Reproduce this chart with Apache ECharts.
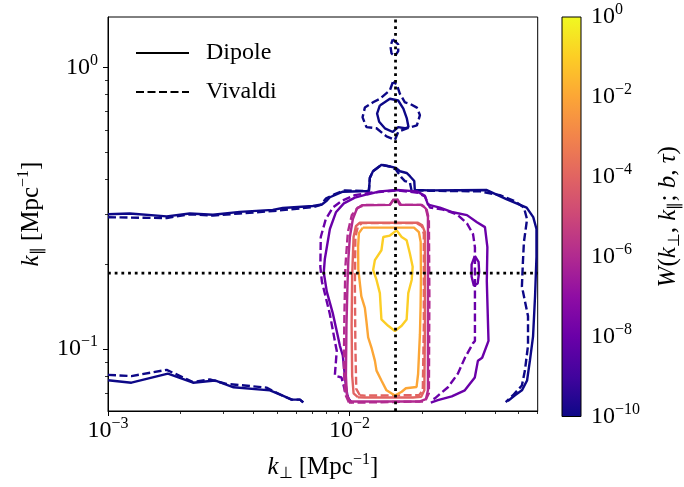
<!DOCTYPE html>
<html>
<head>
<meta charset="utf-8">
<script src="https://cdn.jsdelivr.net/npm/echarts@6/dist/echarts.min.js"></script>
<style>
html, body { margin: 0; padding: 0; background: #fff; }
#main { width: 684px; height: 487px; }
</style>
</head>
<body>
<div id="main"></div>
<script>
// axis limits and ticks
var kPerpMin = 0.001, kPerpMax = 0.0601;
var kParMin = 0.0603, kParMax = 1.51;
var majorX = [0.001, 0.01];
var minorX = [0.002, 0.003, 0.004, 0.005, 0.006, 0.007, 0.008, 0.009, 0.02, 0.03, 0.04, 0.05, 0.06];
var majorY = [0.1, 1];
var minorY = [0.07, 0.08, 0.09, 0.2, 0.3, 0.4, 0.5, 0.6, 0.7, 0.8, 0.9];
var cbarExp = [-10, -8, -6, -4, -2, 0];

// dotted reference lines
var refKPerp = 0.0155;
var refKPar = 0.186;

// contour lines, [k_perp, k_par]
// W = 1e-10
var dip10Top = [[0.00100,0.301],[0.00123,0.303],[0.00175,0.296],[0.00218,0.303],[0.00272,0.300],[0.00351,0.307],[0.00481,0.312],[0.00529,0.317],[0.00705,0.322],[0.00768,0.326],[0.00806,0.337],[0.00829,0.346],[0.00938,0.362],[0.01202,0.364],[0.01214,0.406],[0.01250,0.428],[0.01357,0.451],[0.01469,0.445],[0.01555,0.440],[0.01616,0.428],[0.01723,0.422],[0.01778,0.411],[0.01853,0.395],[0.01863,0.367],[0.02151,0.366],[0.0370,0.367],[0.0448,0.340],[0.0541,0.318],[0.0576,0.294],[0.0594,0.267],[0.0594,0.2125],[0.0586,0.154],[0.0575,0.111],[0.0558,0.0910],[0.0543,0.0774],[0.0517,0.0714],[0.0484,0.0686],[0.0452,0.0654]];
var viv10Top = [[0.00100,0.294],[0.00123,0.293],[0.00175,0.292],[0.00218,0.301],[0.00272,0.298],[0.00351,0.303],[0.00481,0.309],[0.00705,0.319],[0.00760,0.325],[0.00797,0.342],[0.00869,0.355],[0.00956,0.366],[0.01202,0.364],[0.01214,0.406],[0.01250,0.428],[0.01357,0.451],[0.01469,0.445],[0.01555,0.434],[0.01643,0.406],[0.01695,0.395],[0.01778,0.390],[0.01805,0.366],[0.02151,0.365],[0.03466,0.363],[0.04194,0.352],[0.04839,0.335],[0.0527,0.318],[0.0543,0.289],[0.0527,0.240],[0.0522,0.204],[0.0517,0.167],[0.0548,0.131],[0.0548,0.103],[0.0532,0.0839],[0.0517,0.0743],[0.0475,0.0686],[0.0443,0.0649]];
var dip10Bot = [[0.00100,0.0775],[0.00125,0.0760],[0.00177,0.0818],[0.00225,0.0760],[0.00277,0.0774],[0.00331,0.0732],[0.00468,0.0714],[0.00523,0.0686],[0.00576,0.0662],[0.00623,0.0662],[0.00643,0.0647]];
var viv10Bot = [[0.00100,0.0810],[0.00125,0.0802],[0.00175,0.0844],[0.00225,0.0764],[0.00264,0.0780],[0.00309,0.0753],[0.00453,0.0730],[0.00481,0.0711],[0.00523,0.0686],[0.00576,0.0662],[0.00623,0.0662],[0.00643,0.0647]];
var dip10Isl = [[0.01335,0.733],[0.01469,0.774],[0.01590,0.763],[0.01670,0.714],[0.01726,0.659],[0.01754,0.614],[0.01695,0.608],[0.01590,0.614],[0.01510,0.590],[0.01400,0.608],[0.01326,0.641],[0.01300,0.686],[0.01335,0.733]];
var viv10Isl = [[0.01510,0.886],[0.01469,0.829],[0.01335,0.774],[0.01251,0.752],[0.01157,0.720],[0.01132,0.665],[0.01175,0.614],[0.01293,0.608],[0.01422,0.569],[0.01541,0.553],[0.01590,0.590],[0.01726,0.608],[0.01900,0.623],[0.01956,0.677],[0.01900,0.720],[0.01778,0.743],[0.01695,0.752],[0.01616,0.806],[0.01565,0.874],[0.01510,0.886]];
var viv10Tip = [[0.01510,1.257],[0.01590,1.207],[0.01590,1.142],[0.01541,1.095],[0.01492,1.121],[0.01476,1.190],[0.01510,1.257]];
// W = 1e-8
var dip8 = [[0.01025,0.0646],[0.00984,0.0669],[0.00965,0.0743],[0.00938,0.0947],[0.00912,0.1027],[0.00894,0.1113],[0.00852,0.1342],[0.00805,0.160],[0.00782,0.187],[0.00790,0.209],[0.00829,0.267],[0.00878,0.306],[0.00947,0.329],[0.01052,0.345],[0.01180,0.354],[0.01335,0.363],[0.01571,0.367],[0.01901,0.363],[0.02051,0.350],[0.02111,0.326],[0.02366,0.318],[0.02679,0.306],[0.03062,0.299],[0.03369,0.282],[0.03635,0.271],[0.0372,0.230],[0.0370,0.174],[0.0376,0.107],[0.0354,0.0932],[0.0340,0.0910],[0.0330,0.0793],[0.0300,0.0714],[0.0265,0.0680],[0.0232,0.0659],[0.0217,0.0646]];
var viv8 = [[0.0101,0.0646],[0.00956,0.0714],[0.00926,0.0793],[0.00869,0.0806],[0.00885,0.0986],[0.00869,0.1069],[0.00829,0.133],[0.00768,0.174],[0.00757,0.196],[0.00760,0.250],[0.00797,0.289],[0.00852,0.318],[0.00929,0.336],[0.01052,0.352],[0.01214,0.359],[0.01571,0.366],[0.01919,0.359],[0.02051,0.348],[0.02151,0.318],[0.02435,0.313],[0.02782,0.301],[0.03062,0.2795],[0.03245,0.256],[0.03304,0.230],[0.03304,0.174],[0.03304,0.1069],[0.03245,0.1050],[0.03004,0.0932],[0.02810,0.0819],[0.02555,0.0732],[0.02256,0.0669],[0.02171,0.0656]];
var dip8Loop = [[0.0330,0.2142],[0.0342,0.204],[0.0344,0.188],[0.0339,0.171],[0.0327,0.168],[0.0320,0.181],[0.0320,0.1995],[0.0330,0.2142]];
// W = 1e-6
var dip6 = [[0.01003,0.0652],[0.00975,0.0686],[0.00966,0.0806],[0.00971,0.121],[0.00980,0.167],[0.00989,0.209],[0.01003,0.250],[0.01032,0.2895],[0.01072,0.315],[0.01125,0.324],[0.01469,0.325],[0.01520,0.339],[0.01571,0.339],[0.01616,0.325],[0.01994,0.325],[0.02071,0.315],[0.02111,0.294],[0.02111,0.2125],[0.02111,0.121],[0.02111,0.0714],[0.02071,0.0664],[0.01956,0.0652],[0.01103,0.0652],[0.01003,0.0652]];
var viv6 = [[0.00994,0.0646],[0.00956,0.0697],[0.00947,0.0874],[0.00952,0.131],[0.00961,0.196],[0.00984,0.260],[0.01022,0.299],[0.01082,0.318],[0.01157,0.325],[0.01469,0.325],[0.01528,0.342],[0.01571,0.342],[0.01632,0.325],[0.01975,0.325],[0.0208,0.316],[0.0213,0.289],[0.0214,0.154],[0.0213,0.0697],[0.02051,0.0652],[0.01103,0.0646],[0.00994,0.0646]];
// W = 1e-4
var dip4 = [[0.01082,0.0675],[0.01039,0.0697],[0.01025,0.0806],[0.01020,0.121],[0.01025,0.181],[0.01039,0.250],[0.01062,0.2730],[0.01103,0.281],[0.01919,0.281],[0.02000,0.275],[0.02051,0.260],[0.02051,0.121],[0.0204,0.0714],[0.0198,0.0677],[0.0183,0.0673],[0.01157,0.0673],[0.01082,0.0675]];
var viv4 = [[0.01103,0.0686],[0.01066,0.0722],[0.01057,0.103],[0.01052,0.167],[0.01057,0.250],[0.01082,0.272],[0.01125,0.280],[0.01900,0.280],[0.01994,0.273],[0.0203,0.256],[0.0203,0.121],[0.0201,0.0714],[0.0194,0.0686],[0.01157,0.0684],[0.01103,0.0686]];
// W = 1e-2
var dip2 = [[0.01135,0.270],[0.01093,0.258],[0.01085,0.230],[0.01087,0.192],[0.01119,0.154],[0.01157,0.140],[0.01174,0.126],[0.01194,0.110],[0.01232,0.1013],[0.01273,0.0910],[0.01293,0.0839],[0.01355,0.0774],[0.01422,0.0714],[0.01541,0.0684],[0.01644,0.0706],[0.01711,0.0726],[0.01894,0.0734],[0.01922,0.0816],[0.01937,0.0947],[0.01956,0.113],[0.01968,0.142],[0.01975,0.181],[0.0197,0.240],[0.01937,0.260],[0.01848,0.270],[0.01135,0.270]];
// W = 1e-1
var dip1 = [[0.01565,0.264],[0.01469,0.253],[0.01379,0.250],[0.01355,0.2243],[0.01273,0.207],[0.01252,0.191],[0.01293,0.176],[0.01335,0.158],[0.01355,0.1274],[0.01445,0.121],[0.01541,0.116],[0.01643,0.121],[0.01723,0.1274],[0.01750,0.158],[0.01808,0.176],[0.01825,0.196],[0.01778,0.218],[0.01723,0.2435],[0.01643,0.250],[0.01565,0.264]];

// styles
var serif = 'Liberation Serif';
var plasma = ['#0d0887','#41049d','#6a00a8','#8f0da4','#b12a90','#cc4778','#e16462','#f2844b','#fca636','#fcce25','#f0f921'];
var cNavy = '#0d0887', cPurple = '#6a00a8', cMagenta = '#b12a90', cPink = '#e16462', cOrange = '#fca636', cYellow = '#fcce25';
var dashPat = [8, 3.5];

function supLabel(e) {
  return '{b|10}{s|' + (e < 0 ? '\u2212' + (-e) : e) + '}';
}
function powLabel(v) {
  var l = Math.log10(v), e = Math.round(l);
  if (Math.abs(l - e) > 1e-6) return '';
  return supLabel(e);
}
var richTick = {
  b: { fontFamily: serif, fontSize: 24, lineHeight: 30, color: '#000' },
  s: { fontFamily: serif, fontSize: 16, lineHeight: 16, verticalAlign: 'top', color: '#000' }
};
var richName = {
  i: { fontFamily: serif, fontStyle: 'italic', fontSize: 25, lineHeight: 30, color: '#000' },
  r: { fontFamily: serif, fontSize: 25, lineHeight: 30, color: '#000' },
  sub: { fontFamily: serif, fontSize: 16, lineHeight: 16, verticalAlign: 'bottom', color: '#000' },
  sup: { fontFamily: serif, fontSize: 16, lineHeight: 16, verticalAlign: 'top', color: '#000' }
};

function contour(data, color, dashed) {
  return {
    type: 'line', xAxisIndex: 0, yAxisIndex: 0, data: data,
    symbol: 'none', silent: true, z: 3,
    lineStyle: { color: color, width: 2.4, type: dashed ? dashPat : 'solid' }
  };
}
function dotted(data) {
  return {
    type: 'line', xAxisIndex: 0, yAxisIndex: 0, data: data,
    symbol: 'none', silent: true, z: 5,
    lineStyle: { color: '#000', width: 2.8, type: [2.8, 3.9], cap: 'butt' }
  };
}

var myChart = echarts.init(document.getElementById('main'));

var series = [
  { name: 'Dipole', type: 'line', data: [], symbol: 'none', itemStyle: { color: 'rgba(0,0,0,0)', borderWidth: 0 }, lineStyle: { color: '#000', width: 2.8, type: 'solid' } },
  { name: 'Vivaldi', type: 'line', data: [], symbol: 'none', itemStyle: { color: 'rgba(0,0,0,0)', borderWidth: 0 }, lineStyle: { color: '#000', width: 2.8, type: dashPat } },
  contour(dip10Top, cNavy, false), contour(viv10Top, cNavy, true),
  contour(dip10Bot, cNavy, false), contour(viv10Bot, cNavy, true),
  contour(dip10Isl, cNavy, false), contour(viv10Isl, cNavy, true), contour(viv10Tip, cNavy, true),
  contour(dip8, cPurple, false), contour(viv8, cPurple, true), contour(dip8Loop, cPurple, false),
  contour(dip6, cMagenta, false), contour(viv6, cMagenta, true),
  contour(dip4, cPink, false), contour(viv4, cPink, true),
  contour(dip2, cOrange, false),
  contour(dip1, cYellow, false),
  dotted([[refKPerp, kParMin], [refKPerp, kParMax]]),
  dotted([[kPerpMin, refKPar], [kPerpMax, refKPar]]),
  {
    type: 'custom', xAxisIndex: 2, yAxisIndex: 2, silent: true,
    data: [[0, cbarExp[0], 1, cbarExp[cbarExp.length - 1]]],
    renderItem: function (params, api) {
      var p0 = api.coord([api.value(0), api.value(1)]);
      var p1 = api.coord([api.value(2), api.value(3)]);
      var stops = plasma.map(function (c, i) { return { offset: i / (plasma.length - 1), color: c }; });
      return {
        type: 'rect',
        shape: { x: p0[0], y: p1[1], width: p1[0] - p0[0], height: p0[1] - p1[1] },
        style: { fill: new echarts.graphic.LinearGradient(0, 1, 0, 0, stops), stroke: '#000', lineWidth: 1 }
      };
    }
  }
];

option = {
  animation: false,
  backgroundColor: '#fff',
  legend: {
    data: ['Dipole', 'Vivaldi'],
    orient: 'vertical',
    left: 130, top: 33,
    itemWidth: 53, itemHeight: 14, itemGap: 9,
    itemStyle: { opacity: 0 },
    textStyle: { fontFamily: serif, fontSize: 24, lineHeight: 30, color: '#000', padding: [0, 0, 0, 12] },
    selectedMode: false
  },
  grid: [
    { left: 108, top: 17, right: 146.3, bottom: 71, show: true, borderColor: '#000', borderWidth: 1, backgroundColor: 'transparent' },
    { left: 562, top: 17, width: 20.5, height: 399.5 }
  ],
  xAxis: [
    {
      type: 'log', logBase: 10, gridIndex: 0, position: 'bottom', min: kPerpMin, max: kPerpMax,
      axisLine: { show: true, lineStyle: { color: '#000', width: 1 } },
      axisTick: { show: true, inside: false, length: 5, customValues: majorX, lineStyle: { color: '#000', width: 1 } },
      axisLabel: { show: true, margin: 5, customValues: majorX, formatter: powLabel, rich: richTick },
      splitLine: { show: false },
      name: '{i|k}{sub|\u22a5}{r| [Mpc}{sup|\u22121}{r|]}',
      nameLocation: 'middle', nameGap: 41,
      nameTextStyle: { rich: richName }
    },
    {
      type: 'log', logBase: 10, gridIndex: 0, position: 'bottom', min: kPerpMin, max: kPerpMax,
      axisLine: { show: false },
      axisTick: { show: true, inside: false, length: 3, customValues: minorX, lineStyle: { color: '#000', width: 0.8 } },
      axisLabel: { show: false },
      splitLine: { show: false }
    },
    {
      type: 'value', gridIndex: 1, min: 0, max: 1, show: false
    }
  ],
  yAxis: [
    {
      type: 'log', logBase: 10, gridIndex: 0, position: 'left', min: kParMin, max: kParMax,
      axisLine: { show: true, lineStyle: { color: '#000', width: 1 } },
      axisTick: { show: true, inside: false, length: 5, customValues: majorY, lineStyle: { color: '#000', width: 1 } },
      axisLabel: { show: true, margin: 10, customValues: majorY, formatter: powLabel, rich: richTick },
      splitLine: { show: false },
      name: '{i|k}{sub|\u2225}{r| [Mpc}{sup|\u22121}{r|]}',
      nameLocation: 'middle', nameGap: 62, nameRotate: 90,
      nameTextStyle: { rich: richName }
    },
    {
      type: 'log', logBase: 10, gridIndex: 0, position: 'left', min: kParMin, max: kParMax,
      axisLine: { show: false },
      axisTick: { show: true, inside: false, length: 3, customValues: minorY, lineStyle: { color: '#000', width: 0.8 } },
      axisLabel: { show: false },
      splitLine: { show: false }
    },
    {
      type: 'value', gridIndex: 1, position: 'right', min: cbarExp[0], max: cbarExp[cbarExp.length - 1], interval: 2,
      axisLine: { show: false },
      axisTick: { show: true, inside: false, length: 5, lineStyle: { color: '#000', width: 1 } },
      axisLabel: { show: true, margin: 10, formatter: function (v) { return supLabel(v); }, rich: richTick },
      splitLine: { show: false },
      name: '{i|W}{r|(}{i|k}{sub|\u22a5}{r|, }{i|k}{sub|\u2225}{r|; }{i|b}{r|, }{i|\u03c4}{r|)}',
      nameLocation: 'middle', nameGap: 72, nameRotate: 90,
      nameTextStyle: { rich: richName }
    }
  ],
  series: series
};

myChart.setOption(option);
</script>
</body>
</html>
